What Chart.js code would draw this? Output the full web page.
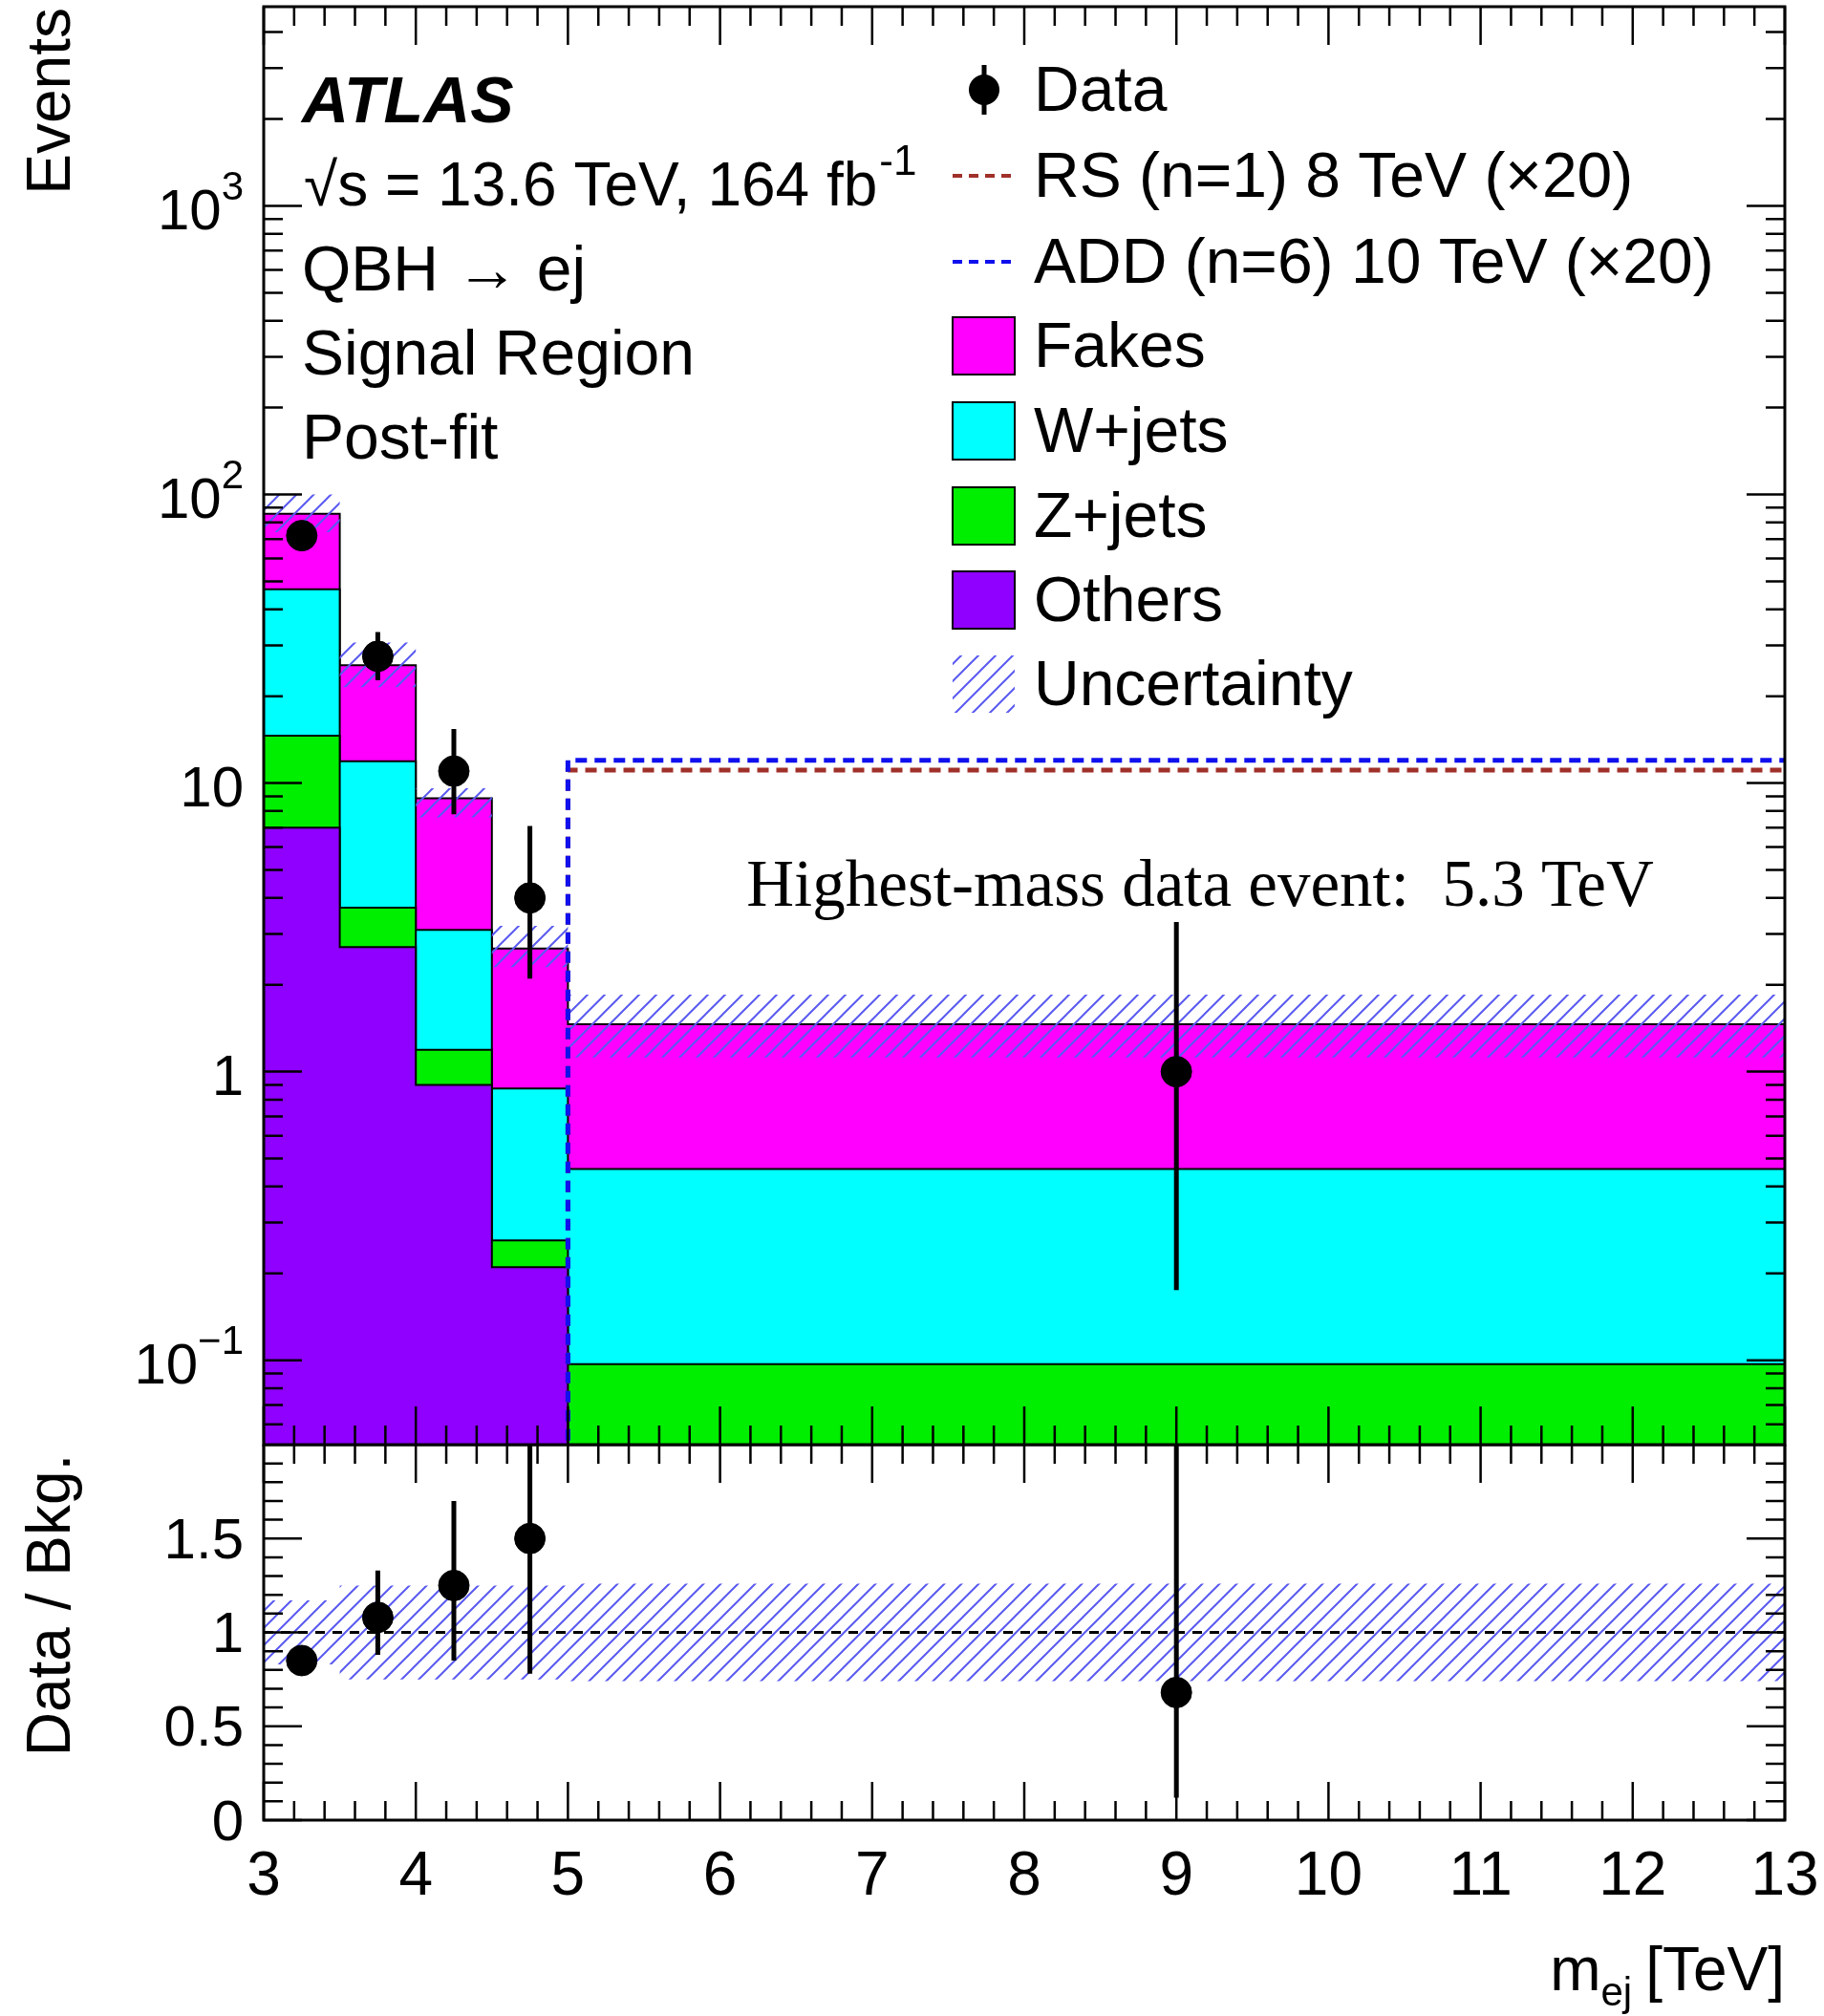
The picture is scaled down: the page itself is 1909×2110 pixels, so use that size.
<!DOCTYPE html>
<html><head><meta charset="utf-8">
<script src="https://cdn.jsdelivr.net/npm/chart.js@4"></script>
<style>
body{margin:0;background:#fff;width:1909px;height:2110px;overflow:hidden}
canvas{position:absolute;left:0}
</style></head><body>
<div style="position:absolute;left:0;top:0;width:1909px;height:1520px"><canvas id="main"></canvas></div>
<div style="position:absolute;left:0;top:1512px;width:1909px;height:598px"><canvas id="ratio"></canvas></div>
<script>
// bin edges in TeV
const edges=[3,3.5,4,4.5,5,13];
// cumulative stack tops (events)
const others=[7.0,2.7,0.9,0.21,0.001];
const zjets=[14.6,3.7,1.19,0.26,0.097];
const wjets=[46.9,11.9,3.1,0.875,0.46];
const fakes=[85.7,25.6,8.85,2.67,1.46];
const uncUp=[100,30.7,9.6,3.2,1.85];
const uncDn=[74,21.5,7.6,2.3,1.12];
// data
const dataX=[3.25,3.75,4.25,4.75,9];
const dataY=[72,27.5,11,4.0,1];
const dataHi=[80,33.4,15.4,7.1,3.3];
const dataLo=[64,22.7,7.8,2.1,0.175];
// signals (x20)
const rsLevel=11.1, addLevel=12.0;
// ratio
const ratioY=[0.85,1.08,1.25,1.5,0.68];
const ratioHi=[0.92,1.33,1.7,2.0,2.0];
const ratioLo=[0.78,0.88,0.85,0.78,0.12];
const rUncUp=[1.17,1.25,1.25,1.25,1.26];
const rUncDn=[0.83,0.75,0.75,0.75,0.74];

const F='"Liberation Sans", Arial, sans-serif';
function steps(v){let p=[];for(let i=0;i<v.length;i++){p.push({x:edges[i],y:v[i]});p.push({x:edges[i+1],y:v[i]});}return p;}
function hatch(){let c=document.createElement('canvas');c.width=c.height=18;let g=c.getContext('2d');
  g.strokeStyle='#5a5af0';g.lineWidth=2;g.beginPath();g.moveTo(0,18);g.lineTo(18,0);g.moveTo(-9,9);g.lineTo(9,-9);g.moveTo(9,27);g.lineTo(27,9);g.stroke();
  return g.createPattern(c,'repeat');}
const pat=hatch();
function stack(lbl,v,col,ord){return {type:'line',label:lbl,data:steps(v),backgroundColor:col,borderColor:'#000',borderWidth:2,fill:'start',pointRadius:0,order:ord};}
function band(v,fill){return {data:steps(v),borderWidth:0,borderColor:'rgba(0,0,0,0)',pointRadius:0,fill:fill,backgroundColor:pat,order:0};}

function drawTicks(ctx,a,xs,ys,xMaj,xMin,yMaj,yMin,L){
  ctx.save();ctx.strokeStyle='#000';ctx.lineWidth=2.5;ctx.beginPath();
  xMaj.forEach(v=>{let p=xs.getPixelForValue(v);ctx.moveTo(p,a.bottom);ctx.lineTo(p,a.bottom-L);ctx.moveTo(p,a.top);ctx.lineTo(p,a.top+L);});
  xMin.forEach(v=>{let p=xs.getPixelForValue(v);ctx.moveTo(p,a.bottom);ctx.lineTo(p,a.bottom-L/2);ctx.moveTo(p,a.top);ctx.lineTo(p,a.top+L/2);});
  yMaj.forEach(v=>{let p=ys.getPixelForValue(v);ctx.moveTo(a.left,p);ctx.lineTo(a.left+L,p);ctx.moveTo(a.right,p);ctx.lineTo(a.right-L,p);});
  yMin.forEach(v=>{let p=ys.getPixelForValue(v);ctx.moveTo(a.left,p);ctx.lineTo(a.left+L/2,p);ctx.moveTo(a.right,p);ctx.lineTo(a.right-L/2,p);});
  ctx.stroke();ctx.lineWidth=3;ctx.strokeRect(a.left,a.top,a.right-a.left,a.bottom-a.top);ctx.restore();
}
function errBars(ctx,xs,ys,X,H,Lo){ctx.save();ctx.strokeStyle='#000';ctx.lineWidth=5;ctx.beginPath();
  X.forEach((x,i)=>{let p=xs.getPixelForValue(x);ctx.moveTo(p,ys.getPixelForValue(H[i]));ctx.lineTo(p,ys.getPixelForValue(Lo[i]));});ctx.stroke();ctx.restore();}
const xMaj=[3,4,5,6,7,8,9,10,11,12,13];let xMin=[];for(let v=3;v<13;v+=0.2)xMin.push(+v.toFixed(1));

const mainPlugin={id:'m',afterDatasetsDraw(c){
  const ctx=c.ctx,a=c.chartArea,xs=c.scales.x,ys=c.scales.y;
  errBars(ctx,xs,ys,dataX,dataHi,dataLo);
  let yMaj=[0.1,1,10,100,1000],yMin=[];
  for(let d=0.01;d<1e4;d*=10)for(let k=2;k<10;k++){let v=d*k;if(v>0.051&&v<4900)yMin.push(v);}
  drawTicks(ctx,a,xs,ys,xMaj,xMin,yMaj,yMin,40);
  ctx.save();ctx.fillStyle='#000';
  const labs=[[0.1,'10','\u22121'],[1,'1',''],[10,'10',''],[100,'10','2'],[1000,'10','3']];
  labs.forEach(([v,b,s])=>{let p=ys.getPixelForValue(v);ctx.textBaseline='middle';
    let sw=0;if(s){ctx.font='42px '+F;sw=ctx.measureText(s).width;}
    ctx.font='60px '+F;ctx.textAlign='right';ctx.fillText(b,255-sw,p+8);
    if(s){ctx.font='42px '+F;ctx.textAlign='left';ctx.fillText(s,255-sw,p-18);}});
  ctx.save();ctx.translate(55,8);ctx.rotate(-Math.PI/2);ctx.font='64px '+F;ctx.textAlign='right';ctx.textBaseline='middle';ctx.fillText('Events',0,0);ctx.restore();
  ctx.textBaseline='alphabetic';ctx.textAlign='left';
  ctx.font='italic bold 68px '+F;ctx.fillText('ATLAS',316,128);
  ctx.font='64px '+F;ctx.fillText('\u221As = 13.6 TeV, 164 fb',318,215);
  let w=ctx.measureText('\u221As = 13.6 TeV, 164 fb').width;ctx.font='44px '+F;ctx.fillText('-1',318+w+2,183);
  ctx.font='66px '+F;ctx.fillText('QBH \u2192 ej',316,304);ctx.fillText('Signal Region',316,392);ctx.fillText('Post-fit',316,480);
  ctx.font='69px "Liberation Serif", serif';ctx.textAlign='center';ctx.fillText('Highest-mass data event:  5.3 TeV',1256,948);
  ctx.textAlign='left';ctx.font='66px '+F;ctx.textBaseline='middle';
  const rows=[94,184,274,362,451,540,628,716],tx=1082,bx=997,bw=65,bh=60;
  const names=['Data','RS (n=1) 8 TeV (\u00d720)','ADD (n=6) 10 TeV (\u00d720)','Fakes','W+jets','Z+jets','Others','Uncertainty'];
  names.forEach((n,i)=>ctx.fillText(n,tx,rows[i]+4));
  ctx.beginPath();ctx.arc(1030,rows[0],16,0,7);ctx.fill();ctx.lineWidth=5;ctx.beginPath();ctx.moveTo(1030,rows[0]-26);ctx.lineTo(1030,rows[0]+26);ctx.stroke();
  ctx.lineWidth=4;ctx.setLineDash([10,7]);ctx.strokeStyle='#a0302a';ctx.beginPath();ctx.moveTo(bx,rows[1]);ctx.lineTo(bx+bw,rows[1]);ctx.stroke();
  ctx.strokeStyle='#1010ee';ctx.beginPath();ctx.moveTo(bx,rows[2]);ctx.lineTo(bx+bw,rows[2]);ctx.stroke();ctx.setLineDash([]);
  ['#ff00ff','#00ffff','#00ee00','#8f00ff'].forEach((col,i)=>{let y=rows[3+i]-bh/2;ctx.fillStyle=col;ctx.fillRect(bx,y,bw,bh);ctx.strokeStyle='#000';ctx.lineWidth=2;ctx.strokeRect(bx,y,bw,bh);});
  ctx.fillStyle=pat;ctx.fillRect(bx,rows[7]-bh/2,bw,bh);
  ctx.restore();
}};

new Chart(document.getElementById('main'),{
  type:'line',
  data:{datasets:[
    {type:'scatter',label:'Data',data:dataX.map((x,i)=>({x:x,y:dataY[i]})),backgroundColor:'#000',borderColor:'#000',pointRadius:16,order:-2},
    {label:'ADD',data:[{x:5,y:0.001},{x:5,y:addLevel},{x:13,y:addLevel}],borderColor:'#1010ee',borderWidth:5,borderDash:[12,8],pointRadius:0,fill:false,order:-1},
    {label:'RS',data:[{x:5,y:0.001},{x:5,y:rsLevel},{x:13,y:rsLevel}],borderColor:'#a0302a',borderWidth:5,borderDash:[12,8],pointRadius:0,fill:false,order:-1},
    band(uncUp,false),
    band(uncDn,'-1'),
    stack('Others',others,'#8f00ff',1),
    stack('Z+jets',zjets,'#00ee00',2),
    stack('W+jets',wjets,'#00ffff',3),
    stack('Fakes',fakes,'#ff00ff',4)
  ]},
  options:{responsive:true,maintainAspectRatio:false,animation:false,
    layout:{autoPadding:false,padding:{left:276,right:41,top:7,bottom:8}},
    plugins:{legend:{display:false},tooltip:{enabled:false}},
    scales:{x:{type:'linear',min:3,max:13,display:false},y:{type:'logarithmic',min:0.051,max:4900,display:false}}},
  plugins:[mainPlugin]
});

const ratioPlugin={id:'r',afterDatasetsDraw(c){
  const ctx=c.ctx,a=c.chartArea,xs=c.scales.x,ys=c.scales.y;
  errBars(ctx,xs,ys,dataX,ratioHi,ratioLo);
  let yMin=[];for(let v=0.1;v<2;v+=0.1)yMin.push(+v.toFixed(1));
  drawTicks(ctx,a,xs,ys,xMaj,xMin,[0,0.5,1,1.5],yMin,40);
  ctx.save();ctx.fillStyle='#000';ctx.font='60px '+F;ctx.textAlign='right';ctx.textBaseline='middle';
  [[0,'0'],[0.5,'0.5'],[1,'1'],[1.5,'1.5']].forEach(([v,t])=>ctx.fillText(t,255,ys.getPixelForValue(v)+4));
  ctx.textAlign='center';ctx.textBaseline='alphabetic';ctx.font='64px '+F;
  xMaj.forEach(v=>ctx.fillText(String(v),xs.getPixelForValue(v),a.bottom+78));
  ctx.font='64px '+F;let tw=ctx.measureText('[TeV]').width;
  ctx.textAlign='right';ctx.fillText('[TeV]',a.right,a.bottom+178);
  ctx.font='42px '+F;let ew=ctx.measureText('ej').width;ctx.fillText('ej',a.right-tw-14,a.bottom+194);
  ctx.font='64px '+F;ctx.fillText('m',a.right-tw-14-ew,a.bottom+178);
  ctx.save();ctx.translate(55,168);ctx.rotate(-Math.PI/2);ctx.textAlign='center';ctx.textBaseline='middle';ctx.font='64px '+F;ctx.fillText('Data / Bkg.',0,0);ctx.restore();
  ctx.restore();
}};
new Chart(document.getElementById('ratio'),{
  type:'line',
  data:{datasets:[
    {type:'scatter',data:dataX.map((x,i)=>({x:x,y:ratioY[i]})),backgroundColor:'#000',borderColor:'#000',pointRadius:16,order:-2},
    {data:[{x:3,y:1},{x:13,y:1}],borderColor:'#000',borderWidth:3,borderDash:[10,8],pointRadius:0,fill:false,order:-1},
    band(rUncUp,false),
    band(rUncDn,'-1')
  ]},
  options:{responsive:true,maintainAspectRatio:false,animation:false,
    layout:{autoPadding:false,padding:{left:276,right:41,top:0,bottom:205}},
    plugins:{legend:{display:false},tooltip:{enabled:false}},
    scales:{x:{type:'linear',min:3,max:13,display:false},y:{type:'linear',min:0,max:2.0,display:false}}},
  plugins:[ratioPlugin]
});
</script></body></html>
